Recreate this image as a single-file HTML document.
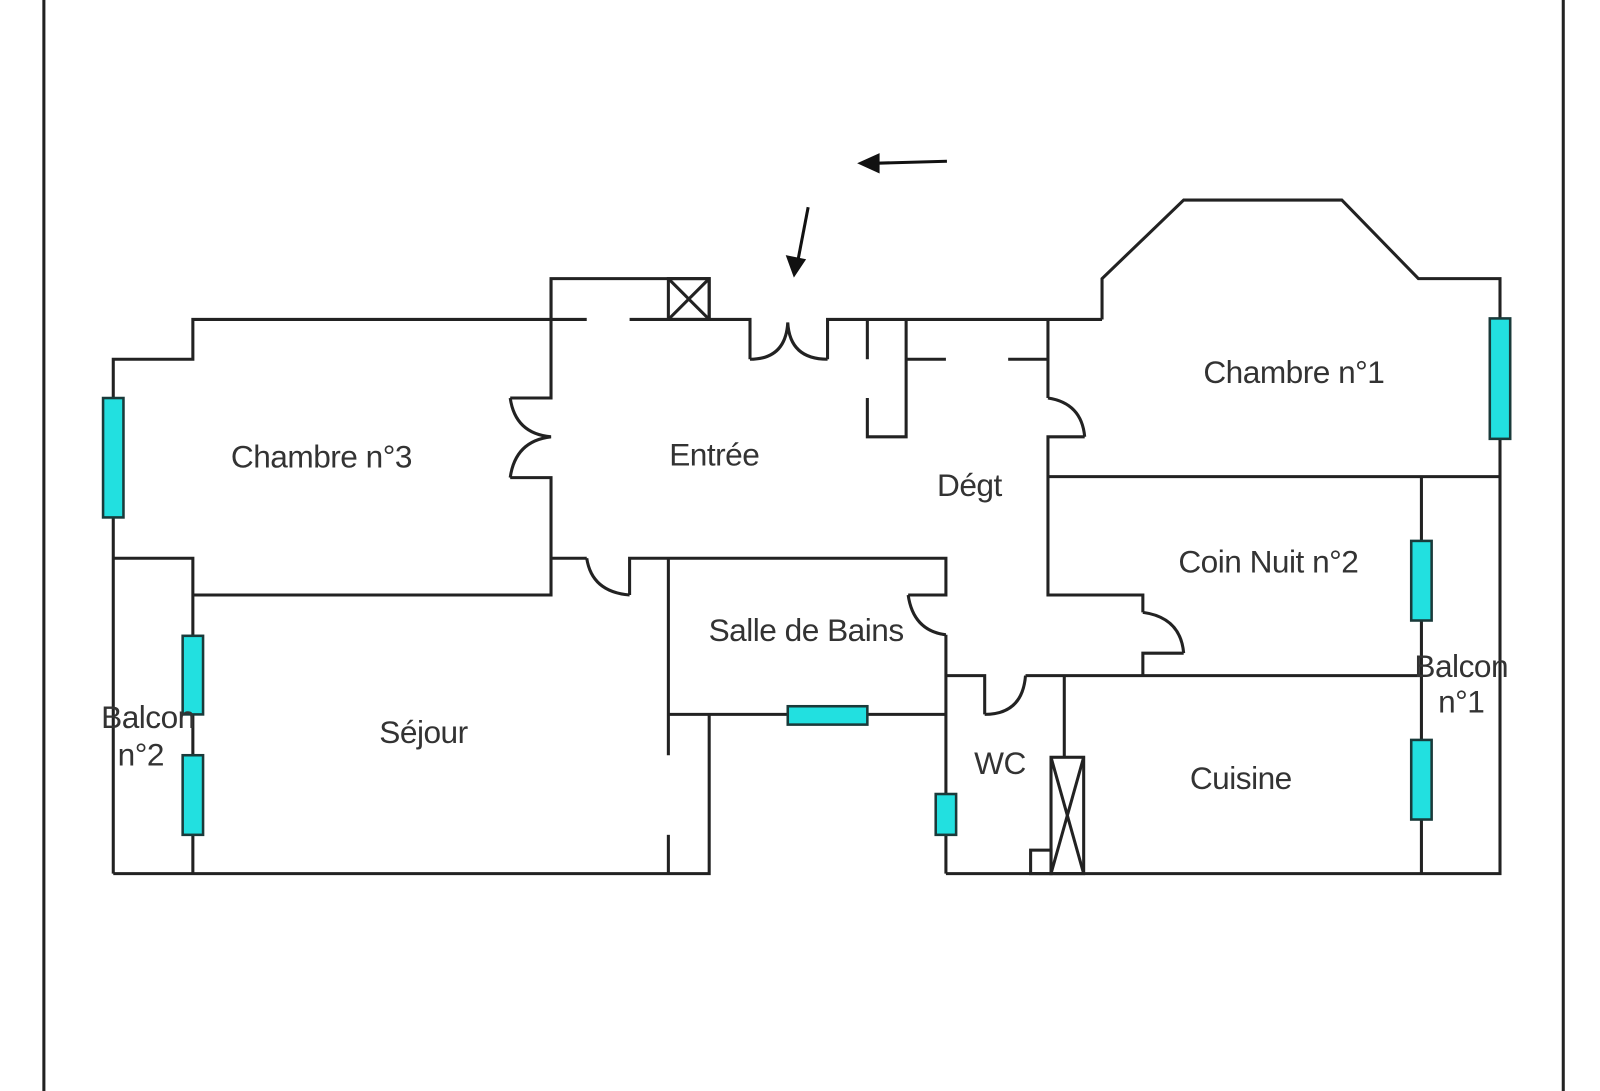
<!DOCTYPE html>
<html><head><meta charset="utf-8"><style>html,body{margin:0;padding:0;background:#fff}svg{display:block}text{font-family:"Liberation Sans",sans-serif;font-size:31px;fill:#333;text-anchor:middle;dominant-baseline:middle;letter-spacing:-0.5px}</style></head><body>
<svg width="1600" height="1091" viewBox="0 0 1568 1069" preserveAspectRatio="none" xmlns="http://www.w3.org/2000/svg">
<g stroke="#222" stroke-width="3" fill="none">
<line x1="43" y1="0" x2="43" y2="1069"/><line x1="1532" y1="0" x2="1532" y2="1069"/>
<polyline points="111,856 111,352 189,352 189,313 575,313"/>
<polyline points="617,313 735,313 735,352"/>
<path d="M735,352 Q770,352 772,316 Q774,352 811,352"/>
<polyline points="811,352 811,313 1080,313"/>
<polyline points="540,313 540,273 695,273 695,313"/>
<rect x="655" y="273" width="40" height="40"/><line x1="655" y1="273" x2="695" y2="313"/><line x1="695" y1="273" x2="655" y2="313"/>
<polyline points="540,273 540,390 500,390"/>
<path d="M500,390 Q505,425 540,428 Q505,432 500,468"/>
<polyline points="500,468 540,468 540,583 189,583"/>
<polyline points="111,547 189,547 189,856"/>
<polyline points="111,856 695,856 695,700"/>
<line x1="655" y1="547" x2="655" y2="740"/><line x1="655" y1="818" x2="655" y2="856"/>
<polyline points="540,547 575,547"/><path d="M575,547 Q580,580 617,583"/><polyline points="617,583 617,547 927,547 927,583 890,583"/>
<path d="M890,583 Q895,618 927,622"/><polyline points="927,622 927,856"/>
<line x1="655" y1="700" x2="927" y2="700"/>
<polyline points="927,662 965,662 965,700"/><path d="M965,700 Q1002,700 1005,662"/>
<line x1="1005" y1="662" x2="1393" y2="662"/>
<line x1="1043" y1="662" x2="1043" y2="742"/>
<rect x="1030" y="742" width="32" height="114"/><line x1="1030" y1="742" x2="1062" y2="856"/><line x1="1062" y1="742" x2="1030" y2="856"/>
<rect x="1010" y="833" width="20" height="23"/>
<polyline points="927,856 1470,856 1470,273 1390,273 1315,196 1160,196 1080,273 1080,313"/>
<line x1="1393" y1="467" x2="1393" y2="856"/>
<line x1="1027" y1="467" x2="1470" y2="467"/>
<polyline points="1027,313 1027,390"/><path d="M1027,390 Q1060,395 1063,428"/><polyline points="1063,428 1027,428 1027,583 1120,583 1120,600"/>
<path d="M1120,600 Q1157,605 1160,640"/><polyline points="1160,640 1120,640 1120,662"/>
<line x1="988" y1="352" x2="1027" y2="352"/>
<line x1="850" y1="313" x2="850" y2="352"/><polyline points="850,390 850,428 888,428 888,313"/><line x1="888" y1="352" x2="927" y2="352"/>
</g>
<g stroke="#1a3a3a" stroke-width="2.5" fill="#22e0e0">
<rect x="101" y="390" width="20" height="117"/>
<rect x="179" y="623" width="20" height="77"/><rect x="179" y="740" width="20" height="78"/>
<rect x="772" y="692" width="78" height="18"/>
<rect x="917" y="778" width="20" height="40"/>
<rect x="1383" y="530" width="20" height="78"/><rect x="1383" y="725" width="20" height="78"/>
<rect x="1460" y="312" width="20" height="118"/>
</g>
<g stroke="#111" stroke-width="3" fill="#111">
<line x1="928" y1="158" x2="856" y2="160"/><polygon points="840,160 862,150 862,170" stroke="none"/>
<line x1="792" y1="203" x2="782" y2="255"/><polygon points="778,272 770,250 790,254" stroke="none"/>
</g>
<text x="315" y="450">Chambre n°3</text>
<text x="700" y="448">Entrée</text>
<text x="950" y="478">Dégt</text>
<text x="1268" y="367">Chambre n°1</text>
<text x="1243" y="553">Coin Nuit n°2</text>
<text x="790" y="620">Salle de Bains</text>
<text x="415" y="720">Séjour</text>
<text x="980" y="750">WC</text>
<text x="1216" y="765">Cuisine</text>
<text x="145" y="705">Balcon</text><text x="138" y="742">n°2</text>
<text x="1432" y="655">Balcon</text><text x="1432" y="690">n°1</text>
</svg>
</body></html>
